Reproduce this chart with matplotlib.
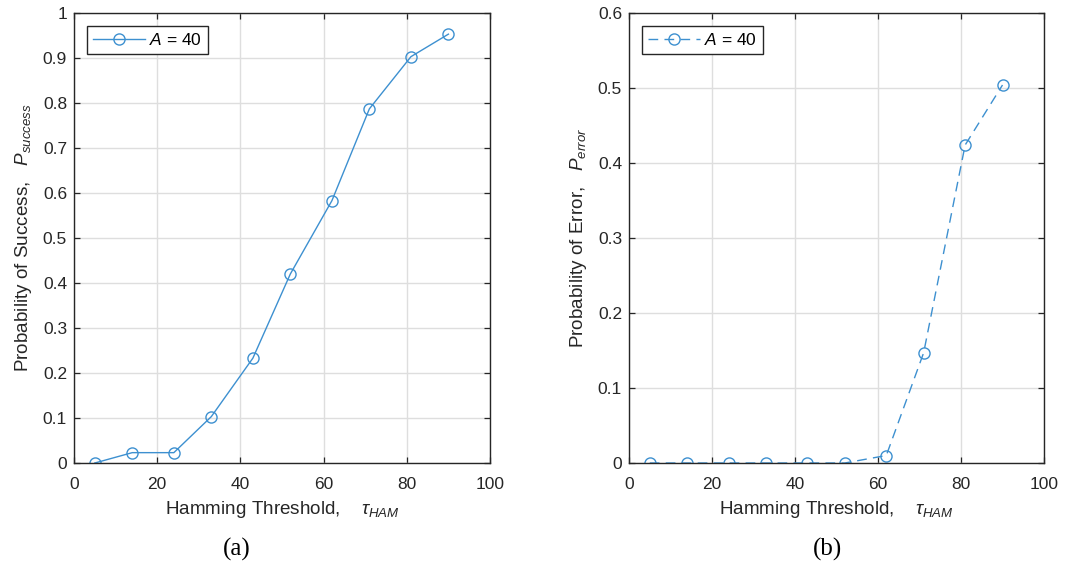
import matplotlib
matplotlib.use("Agg")
import matplotlib.pyplot as plt

plt.rcParams['font.family'] = ['Liberation Sans', 'DejaVu Sans']
plt.rcParams['mathtext.fontset'] = 'custom'
plt.rcParams['mathtext.it'] = 'Liberation Sans:italic'
plt.rcParams['mathtext.rm'] = 'Liberation Sans'

tau = [5, 14, 24, 33, 43, 52, 62, 71, 81, 90]
p_success = [0.0, 0.023, 0.023, 0.103, 0.233, 0.42, 0.583, 0.787, 0.903, 0.953]
p_error = [0.0, 0.0, 0.0, 0.0, 0.0, 0.0, 0.01, 0.147, 0.424, 0.504]
legend_label = r'$\mathit{A}$ = 40'

color = '#3D90D0'
txt = '#262626'
fs = 12.5
lfs = 13.6

fig = plt.figure(figsize=(10.71, 5.69), dpi=100)
ax1 = fig.add_axes([74 / 1071, 1 - 463 / 569, 416 / 1071, 450 / 569])
ax2 = fig.add_axes([629 / 1071, 1 - 463 / 569, 415 / 1071, 450 / 569])

def style(ax, ylim, yticks, ylabels):
    ax.set_xlim(0, 100)
    ax.set_ylim(*ylim)
    ax.set_xticks([0, 20, 40, 60, 80, 100])
    ax.set_yticks(yticks)
    ax.set_yticklabels(ylabels)
    ax.grid(True, color='#dedede', linewidth=1.0)
    ax.set_axisbelow(True)
    ax.tick_params(direction='in', top=True, right=True, length=4, labelsize=fs,
                   colors=txt, labelcolor=txt, width=0.9)
    ax.tick_params(axis='x', pad=10)
    ax.tick_params(axis='y', pad=5)
    for s in ax.spines.values():
        s.set_color(txt)
        s.set_linewidth(1.0)

ax1.plot(tau, p_success, '-', color=color, marker='o', markersize=8,
         markerfacecolor='none', markeredgecolor=color, linewidth=1.0, label=legend_label)
style(ax1, (0, 1), [0, 0.1, 0.2, 0.3, 0.4, 0.5, 0.6, 0.7, 0.8, 0.9, 1],
      ['0', '0.1', '0.2', '0.3', '0.4', '0.5', '0.6', '0.7', '0.8', '0.9', '1'])
ax1.set_xlabel(r'Hamming Threshold,    $\tau_{\mathit{HAM}}$', fontsize=lfs, color=txt)
ax1.set_ylabel(r'Probability of Success,   $\mathit{P}_{\mathit{success}}$', fontsize=lfs, color=txt)
ax1.xaxis.set_label_coords(0.5, -0.08)
ax1.yaxis.set_label_coords(-0.097, 0.5)

ax2.plot(tau, p_error, '--', dashes=(7, 4.5), color=color, marker='o', markersize=8,
         markerfacecolor='none', markeredgecolor=color, linewidth=1.0, label=legend_label)
style(ax2, (0, 0.6), [0, 0.1, 0.2, 0.3, 0.4, 0.5, 0.6],
      ['0', '0.1', '0.2', '0.3', '0.4', '0.5', '0.6'])
ax2.set_xlabel(r'Hamming Threshold,    $\tau_{\mathit{HAM}}$', fontsize=lfs, color=txt)
ax2.set_ylabel(r'Probability of Error,   $\mathit{P}_{\mathit{error}}$', fontsize=lfs, color=txt)
ax2.xaxis.set_label_coords(0.5, -0.08)
ax2.yaxis.set_label_coords(-0.097, 0.5)

for ax in (ax1, ax2):
    leg = ax.legend(loc='upper left', fontsize=fs, fancybox=False, framealpha=1,
                    edgecolor='#262626', borderaxespad=0.75, handlelength=3.0,
                    borderpad=0.35, handletextpad=0.2)
    leg.get_frame().set_linewidth(1.0)

fig.text(237 / 1071, 1 - 549 / 569, '(a)', family='Liberation Serif', fontsize=18,
         ha='center', va='center', color='black')
fig.text(828 / 1071, 1 - 549 / 569, '(b)', family='Liberation Serif', fontsize=18,
         ha='center', va='center', color='black')

fig.savefig('out.png', dpi=100)
